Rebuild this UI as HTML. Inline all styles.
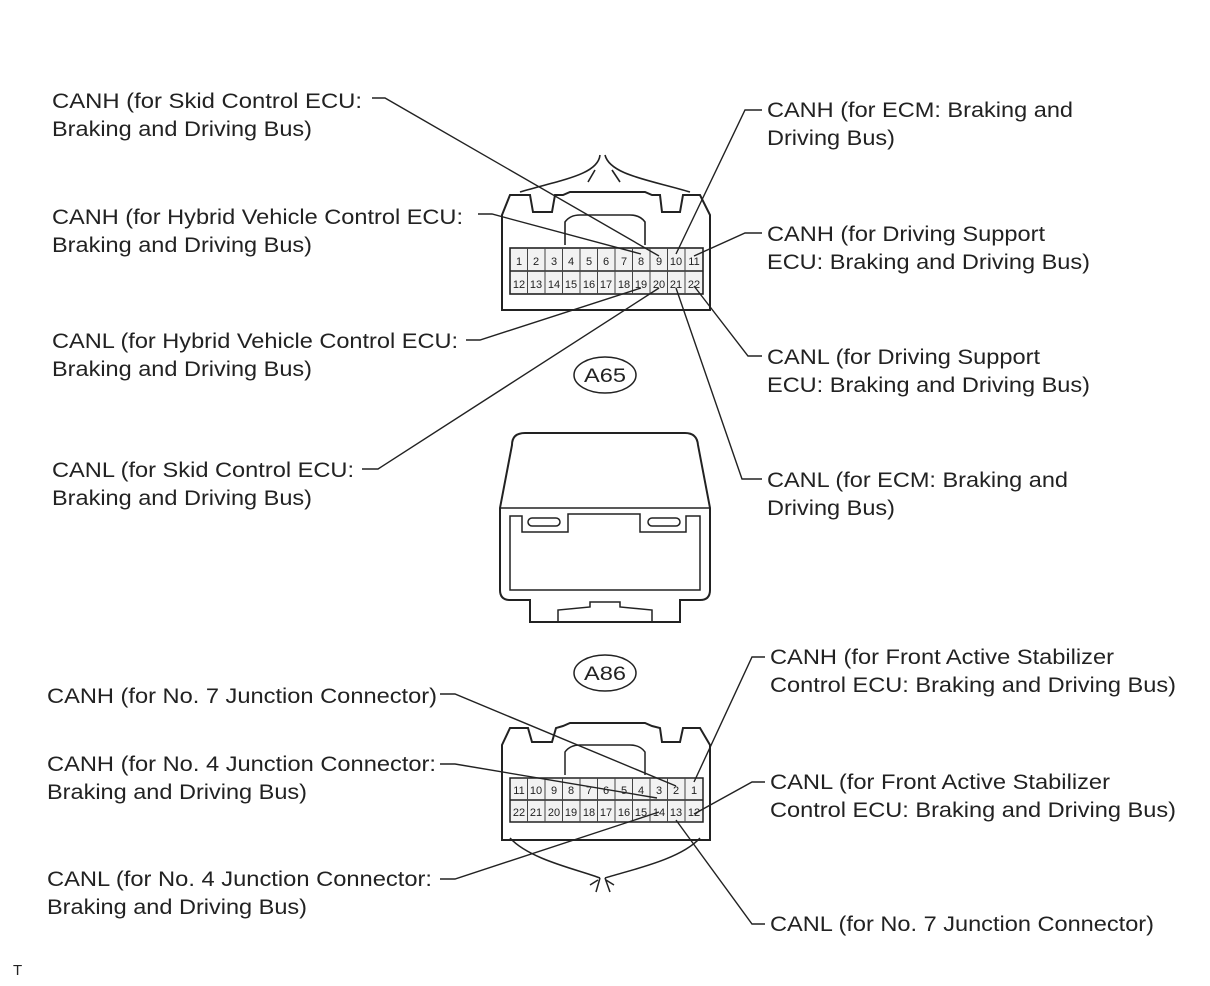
<!DOCTYPE html>
<html><head><meta charset="utf-8"><style>
html,body{margin:0;padding:0;background:#fff;}
svg{display:block;}
text{font-family:"Liberation Sans",Arial,sans-serif;font-size:21px;fill:#222;}
.p{font-size:11px;text-anchor:middle;fill:#222;}
</style></head><body>
<svg width="1210" height="986" viewBox="0 0 1210 986" xmlns="http://www.w3.org/2000/svg">
<g fill="none" stroke="#222" stroke-width="1.6">
<path d="M600,155 C598,175 560,180 520,192 M605,155 C610,175 650,180 690,192 M595,170 L588,182 M612,170 L620,182"/>
<path d="M502,310 L502,215 L510,195 L530,195 L533,212 L552,212 L555,195 L563,195 L570,192 L645,192 L652,195 L660,195 L662,212 L680,212 L683,195 L700,195 L710,215 L710,310 Z" stroke-width="2"/>
<path d="M565,245 L565,222 Q570,215 580,215 L630,215 Q640,215 645,222 L645,245"/>
<rect x="510" y="248" width="193" height="46" fill="#f2f2f2"/>
<line x1="510" y1="271" x2="703" y2="271"/>
</g>
<g stroke="#444" stroke-width="1">
<line x1="527.5" y1="248" x2="527.5" y2="294"/><line x1="545" y1="248" x2="545" y2="294"/><line x1="562.5" y1="248" x2="562.5" y2="294"/><line x1="580" y1="248" x2="580" y2="294"/><line x1="597.5" y1="248" x2="597.5" y2="294"/><line x1="615" y1="248" x2="615" y2="294"/><line x1="632.5" y1="248" x2="632.5" y2="294"/><line x1="650" y1="248" x2="650" y2="294"/><line x1="667.5" y1="248" x2="667.5" y2="294"/><line x1="685" y1="248" x2="685" y2="294"/>
</g>
<g>
<text class="p" x="519" y="265">1</text><text class="p" x="536" y="265">2</text><text class="p" x="554" y="265">3</text><text class="p" x="571" y="265">4</text><text class="p" x="589" y="265">5</text><text class="p" x="606" y="265">6</text><text class="p" x="624" y="265">7</text><text class="p" x="641" y="265">8</text><text class="p" x="659" y="265">9</text><text class="p" x="676" y="265">10</text><text class="p" x="694" y="265">11</text>
<text class="p" x="519" y="288">12</text><text class="p" x="536" y="288">13</text><text class="p" x="554" y="288">14</text><text class="p" x="571" y="288">15</text><text class="p" x="589" y="288">16</text><text class="p" x="606" y="288">17</text><text class="p" x="624" y="288">18</text><text class="p" x="641" y="288">19</text><text class="p" x="659" y="288">20</text><text class="p" x="676" y="288">21</text><text class="p" x="694" y="288">22</text>
</g>
<g fill="none" stroke="#222" stroke-width="1.5">
<ellipse cx="605" cy="375" rx="31" ry="18"/>
<ellipse cx="605" cy="673" rx="31" ry="18"/>
<path d="M512,445 Q512,433 525,433 L685,433 Q697,433 698,445 L710,508 L710,590 Q710,600 700,600 L680,600 L680,622 L530,622 L530,600 L510,600 Q500,600 500,590 L500,508 Z" stroke-width="2"/>
<line x1="500" y1="508" x2="710" y2="508"/>
<path d="M510,590 L510,516 L522,516 L522,532 L568,532 L568,514 L640,514 L640,532 L686,532 L686,516 L700,516 L700,590 Z"/>
<rect x="528" y="518" width="32" height="8" rx="4"/><rect x="648" y="518" width="32" height="8" rx="4"/>
<path d="M558,622 L558,610 L590,607 L590,602 L620,602 L620,607 L652,610 L652,622"/>
<path d="M510,838 C530,860 580,870 600,878 M700,838 C680,860 630,870 605,878 M600,878 L596,892 M605,878 L610,892 M598,880 L590,885 M606,880 L614,885"/>
<path d="M502,840 L502,745 L510,728 L528,728 L532,742 L552,742 L556,728 L563,726 L570,723 L645,723 L652,726 L660,728 L662,742 L680,742 L683,728 L700,728 L710,745 L710,840 Z" stroke-width="2"/>
<path d="M565,775 L565,752 Q570,745 580,745 L630,745 Q640,745 645,752 L645,775"/>
<rect x="510" y="778" width="193" height="44" fill="#f2f2f2"/>
<line x1="510" y1="800" x2="703" y2="800"/>
</g>
<g stroke="#444" stroke-width="1">
<line x1="527.5" y1="778" x2="527.5" y2="822"/><line x1="545" y1="778" x2="545" y2="822"/><line x1="562.5" y1="778" x2="562.5" y2="822"/><line x1="580" y1="778" x2="580" y2="822"/><line x1="597.5" y1="778" x2="597.5" y2="822"/><line x1="615" y1="778" x2="615" y2="822"/><line x1="632.5" y1="778" x2="632.5" y2="822"/><line x1="650" y1="778" x2="650" y2="822"/><line x1="667.5" y1="778" x2="667.5" y2="822"/><line x1="685" y1="778" x2="685" y2="822"/>
</g>
<g>
<text class="p" x="519" y="794">11</text><text class="p" x="536" y="794">10</text><text class="p" x="554" y="794">9</text><text class="p" x="571" y="794">8</text><text class="p" x="589" y="794">7</text><text class="p" x="606" y="794">6</text><text class="p" x="624" y="794">5</text><text class="p" x="641" y="794">4</text><text class="p" x="659" y="794">3</text><text class="p" x="676" y="794">2</text><text class="p" x="694" y="794">1</text>
<text class="p" x="519" y="816">22</text><text class="p" x="536" y="816">21</text><text class="p" x="554" y="816">20</text><text class="p" x="571" y="816">19</text><text class="p" x="589" y="816">18</text><text class="p" x="606" y="816">17</text><text class="p" x="624" y="816">16</text><text class="p" x="641" y="816">15</text><text class="p" x="659" y="816">14</text><text class="p" x="676" y="816">13</text><text class="p" x="694" y="816">12</text>
</g>
<text x="584" y="382" style="font-size:19px" textLength="42" lengthAdjust="spacingAndGlyphs">A65</text>
<text x="584" y="680" style="font-size:19px" textLength="42" lengthAdjust="spacingAndGlyphs">A86</text>
<g fill="none" stroke="#222" stroke-width="1.4">
<polyline points="372,98 385,98 659,256"/>
<polyline points="478,214 492,214 641,254"/>
<polyline points="466,340 480,340 641,288"/>
<polyline points="362,469 378,469 659,288"/>
<polyline points="762,110 745,110 676,254"/>
<polyline points="762,233 745,233 694,256"/>
<polyline points="762,356 748,356 694,286"/>
<polyline points="762,479 742,479 676,288"/>
<polyline points="440,694 455,694 676,786"/>
<polyline points="440,764 455,764 657,798"/>
<polyline points="440,879 455,879 659,812"/>
<polyline points="765,657 752,657 694,782"/>
<polyline points="765,782 752,782 694,814"/>
<polyline points="765,924 752,924 676,820"/>
</g>
<g style="" >
<text x="52" y="108" textLength="310" lengthAdjust="spacingAndGlyphs">CANH (for Skid Control ECU:</text>
<text x="52" y="136" textLength="260" lengthAdjust="spacingAndGlyphs">Braking and Driving Bus)</text>
<text x="52" y="224" textLength="411" lengthAdjust="spacingAndGlyphs">CANH (for Hybrid Vehicle Control ECU:</text>
<text x="52" y="252" textLength="260" lengthAdjust="spacingAndGlyphs">Braking and Driving Bus)</text>
<text x="52" y="348" textLength="406" lengthAdjust="spacingAndGlyphs">CANL (for Hybrid Vehicle Control ECU:</text>
<text x="52" y="376" textLength="260" lengthAdjust="spacingAndGlyphs">Braking and Driving Bus)</text>
<text x="52" y="477" textLength="302" lengthAdjust="spacingAndGlyphs">CANL (for Skid Control ECU:</text>
<text x="52" y="505" textLength="260" lengthAdjust="spacingAndGlyphs">Braking and Driving Bus)</text>
<text x="767" y="117" textLength="306" lengthAdjust="spacingAndGlyphs">CANH (for ECM: Braking and</text>
<text x="767" y="145" textLength="128" lengthAdjust="spacingAndGlyphs">Driving Bus)</text>
<text x="767" y="241" textLength="278" lengthAdjust="spacingAndGlyphs">CANH (for Driving Support</text>
<text x="767" y="269" textLength="323" lengthAdjust="spacingAndGlyphs">ECU: Braking and Driving Bus)</text>
<text x="767" y="364" textLength="273" lengthAdjust="spacingAndGlyphs">CANL (for Driving Support</text>
<text x="767" y="392" textLength="323" lengthAdjust="spacingAndGlyphs">ECU: Braking and Driving Bus)</text>
<text x="767" y="487" textLength="301" lengthAdjust="spacingAndGlyphs">CANL (for ECM: Braking and</text>
<text x="767" y="515" textLength="128" lengthAdjust="spacingAndGlyphs">Driving Bus)</text>
<text x="47" y="703" textLength="390" lengthAdjust="spacingAndGlyphs">CANH (for No. 7 Junction Connector)</text>
<text x="47" y="771" textLength="389" lengthAdjust="spacingAndGlyphs">CANH (for No. 4 Junction Connector:</text>
<text x="47" y="799" textLength="260" lengthAdjust="spacingAndGlyphs">Braking and Driving Bus)</text>
<text x="47" y="886" textLength="385" lengthAdjust="spacingAndGlyphs">CANL (for No. 4 Junction Connector:</text>
<text x="47" y="914" textLength="260" lengthAdjust="spacingAndGlyphs">Braking and Driving Bus)</text>
<text x="770" y="664" textLength="344" lengthAdjust="spacingAndGlyphs">CANH (for Front Active Stabilizer</text>
<text x="770" y="692" textLength="406" lengthAdjust="spacingAndGlyphs">Control ECU: Braking and Driving Bus)</text>
<text x="770" y="789" textLength="340" lengthAdjust="spacingAndGlyphs">CANL (for Front Active Stabilizer</text>
<text x="770" y="817" textLength="406" lengthAdjust="spacingAndGlyphs">Control ECU: Braking and Driving Bus)</text>
<text x="770" y="931" textLength="384" lengthAdjust="spacingAndGlyphs">CANL (for No. 7 Junction Connector)</text>
</g>
<text x="13" y="975" style="font-size:15px">T</text>
</svg>
</body></html>
